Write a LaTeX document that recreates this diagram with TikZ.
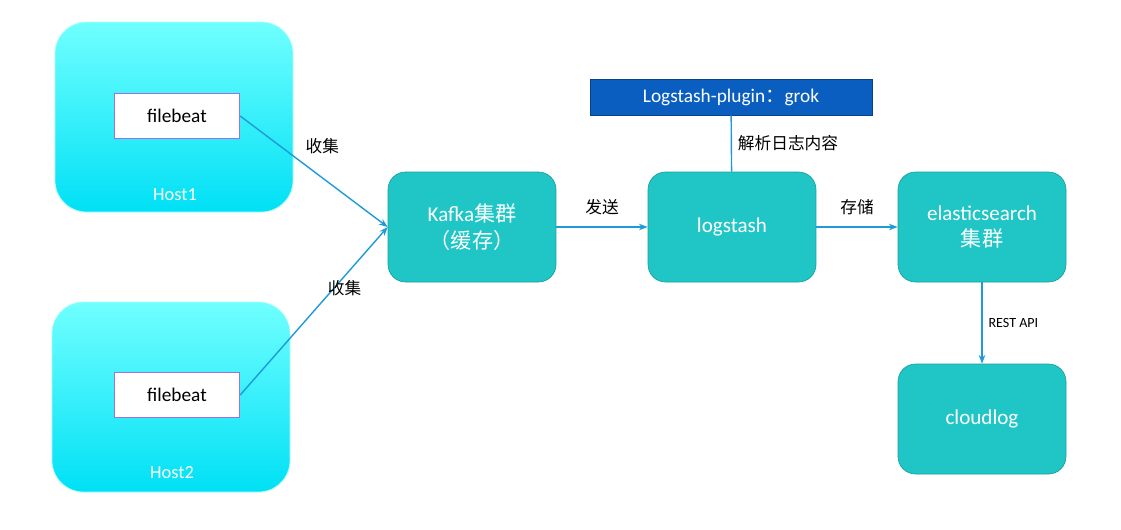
\documentclass[tikz,border=0pt]{standalone}
\usepackage{fontspec}
\setmainfont{Carlito}
\newfontfamily\cjk{Noto Sans CJK SC}
\usetikzlibrary{positioning,arrows.meta}
\definecolor{hostcyan}{HTML}{00E0F5}
\definecolor{hostlight}{HTML}{70FFFF}
\definecolor{tealbox}{HTML}{20C6C6}
\definecolor{tealedge}{HTML}{18A0A0}
\definecolor{grokblue}{HTML}{0A5EC0}
\definecolor{flowblue}{HTML}{1E9AD8}
\definecolor{beatedge}{HTML}{A070E0}

\begin{document}
\begin{tikzpicture}[x=0.02cm,y=-0.02cm,
  host box/.style={rounded corners=18pt,draw=hostlight!60!white,top color=hostlight,bottom color=hostcyan},
  beat box/.style={draw=beatedge,thick,fill=white,minimum width=2.5cm,minimum height=0.9cm,font=\fontsize{11}{13}\selectfont},
  main node/.style={rounded corners=10pt,draw=tealedge,fill=tealbox,text=white,minimum width=3.36cm,minimum height=2.2cm,align=center,font=\fontsize{12}{15}\selectfont},
  flow/.style={draw=flowblue,thick,-{Stealth[length=5pt]}},
  flow label/.style={font=\cjk\fontsize{9.5}{11}\selectfont}]
\useasboundingbox (0,0) rectangle (1121,529);

% Hosts
\draw[host box] (55,22) rectangle (293,212);
\draw[host box] (52,302) rectangle (290,492);
\node[text=white,font=\fontsize{10.5}{12}\selectfont] (host1) at (175,195) {Host1};
\node[text=white,font=\fontsize{10.5}{12}\selectfont] (host2) at (172,473) {Host2};
\node[beat box] (beat1) at (177,116) {filebeat};
\node[beat box] (beat2) at (177,395) {filebeat};

% Pipeline
\node[main node] (kafka) at (472,227) {Kafka{\cjk 集群}\\{\cjk （缓存）}};
\node[main node] (logstash) at (732,227) {logstash};
\node[main node] (elastic) at (982,227) {elasticsearch\\{\cjk 集群}};
\node[main node] (cloudlog) at (982,419) {cloudlog};
\node[draw=grokblue!70!black,fill=grokblue,text=white,minimum width=5.64cm,minimum height=0.72cm,font=\fontsize{11}{13}\selectfont] (grok) at (731,97) {Logstash-plugin{\cjk ：}grok};

% Connectors
\draw[flow] (beat1.east) -- (kafka.west) node[flow label,pos=0.4,above right] {收集};
\draw[flow] (beat2.east) -- (kafka.west) node[flow label,pos=0.55,above right] {收集};
\draw[flow] (kafka) -- (logstash) node[flow label,midway,above=3pt] {发送};
\draw[flow] (logstash) -- (elastic) node[flow label,midway,above=3pt] {存储};
\draw[draw=flowblue,thick] (grok) -- (logstash) node[flow label,midway,right] {解析日志内容};
\draw[flow] (elastic) -- (cloudlog) node[midway,right,font=\fontsize{8}{10}\selectfont] {REST API};
\end{tikzpicture}
\end{document}
